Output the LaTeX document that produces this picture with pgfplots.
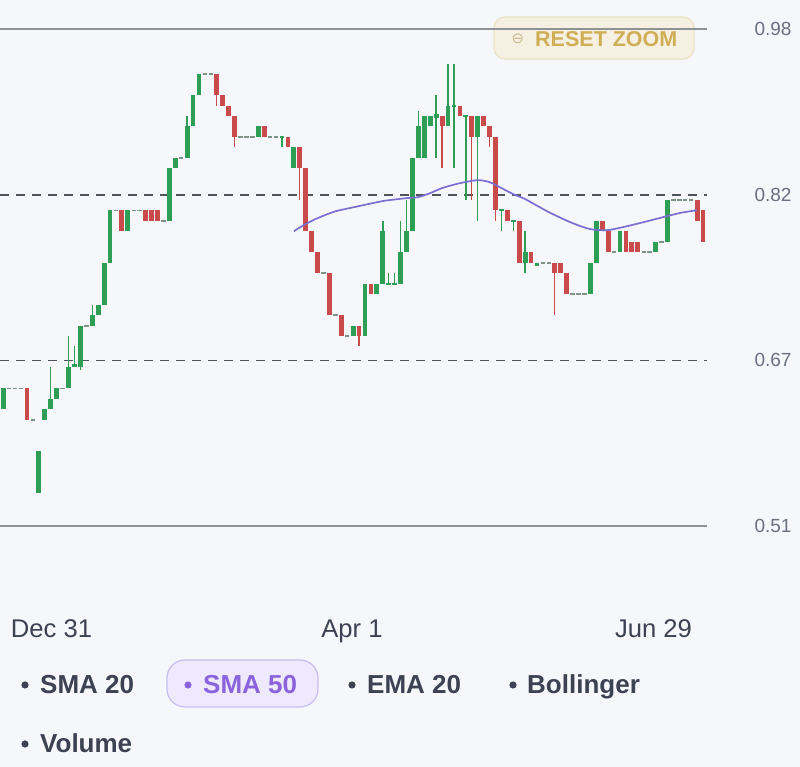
\documentclass[border=0pt]{standalone}
\usepackage{pgfplots}
\pgfplotsset{compat=1.18}
\usepackage{pgfplotstable}
\usepackage{fontspec}
\setmainfont{Liberation Sans}
\newfontfamily\symfont{DejaVu Sans}
\definecolor{bg}{HTML}{F5F7FB}
\definecolor{cgreen}{HTML}{2E9E55}
\definecolor{cred}{HTML}{C94A4A}
\definecolor{cflat}{HTML}{7F9387}
\definecolor{sma}{HTML}{7B6FD0}
\definecolor{txt}{HTML}{3D4252}
\definecolor{ylab}{HTML}{6B7080}
\definecolor{gold}{HTML}{CFAE55}
\definecolor{goldl}{HTML}{C9B98E}
\definecolor{btnfill}{HTML}{F5F0E1}
\definecolor{btnborder}{HTML}{ECE2C6}
\definecolor{pillfill}{HTML}{EEE9FC}
\definecolor{pilldraw}{HTML}{C8BDF0}
\definecolor{purp}{HTML}{8A63DD}
\definecolor{gridd}{HTML}{4F535A}
\definecolor{grids}{HTML}{8E9297}

\pgfplotstableread{
i o h l c
0 0.62 0.64 0.62 0.64
6 0.54 0.58 0.54 0.58
7 0.61 0.62 0.61 0.62
8 0.62 0.66 0.62 0.63
9 0.63 0.64 0.63 0.64
11 0.64 0.69 0.64 0.66
12 0.66 0.68 0.66 0.663
13 0.66 0.70 0.658 0.70
15 0.70 0.72 0.70 0.71
16 0.71 0.72 0.71 0.72
17 0.72 0.76 0.72 0.76
18 0.76 0.81 0.76 0.81
21 0.79 0.81 0.79 0.81
28 0.80 0.85 0.80 0.85
29 0.85 0.86 0.85 0.86
31 0.86 0.90 0.86 0.89
32 0.89 0.92 0.89 0.92
33 0.92 0.94 0.92 0.94
43 0.88 0.89 0.88 0.89
47 0.879 0.881 0.87 0.881
49 0.85 0.87 0.85 0.87
59 0.69 0.70 0.69 0.70
61 0.69 0.74 0.69 0.74
63 0.73 0.74 0.73 0.74
64 0.74 0.80 0.74 0.79
65 0.739 0.75 0.739 0.741
66 0.739 0.75 0.739 0.741
67 0.74 0.80 0.74 0.77
68 0.77 0.82 0.77 0.79
69 0.79 0.86 0.79 0.86
70 0.86 0.905 0.86 0.89
71 0.86 0.90 0.86 0.90
72 0.89 0.90 0.89 0.90
73 0.898 0.92 0.86 0.902
75 0.89 0.95 0.89 0.91
76 0.909 0.95 0.85 0.911
78 0.899 0.901 0.82 0.901
80 0.88 0.90 0.80 0.90
84 0.809 0.811 0.79 0.811
86 0.799 0.801 0.79 0.801
88 0.76 0.79 0.75 0.77
90 0.757 0.76 0.757 0.76
99 0.73 0.76 0.73 0.76
100 0.76 0.80 0.76 0.80
104 0.77 0.79 0.77 0.79
110 0.77 0.78 0.77 0.78
112 0.78 0.82 0.78 0.82
}\greentab

\pgfplotstableread{
i o h l c
4 0.64 0.64 0.61 0.61
20 0.81 0.81 0.79 0.79
24 0.81 0.81 0.80 0.80
25 0.81 0.81 0.80 0.80
26 0.81 0.81 0.80 0.80
36 0.94 0.94 0.91 0.92
37 0.92 0.92 0.91 0.91
38 0.91 0.91 0.90 0.90
39 0.90 0.90 0.87 0.88
44 0.89 0.89 0.88 0.88
48 0.88 0.88 0.87 0.87
50 0.87 0.87 0.82 0.85
51 0.85 0.85 0.79 0.79
52 0.79 0.79 0.77 0.77
53 0.77 0.77 0.75 0.75
55 0.75 0.75 0.71 0.71
57 0.71 0.71 0.69 0.69
60 0.70 0.70 0.68 0.69
62 0.74 0.74 0.73 0.73
74 0.90 0.90 0.85 0.89
77 0.91 0.91 0.90 0.90
79 0.90 0.90 0.82 0.88
81 0.90 0.90 0.89 0.89
82 0.89 0.89 0.87 0.88
83 0.88 0.88 0.80 0.81
85 0.81 0.81 0.80 0.80
87 0.80 0.80 0.76 0.76
89 0.77 0.77 0.76 0.76
93 0.76 0.76 0.71 0.75
94 0.76 0.76 0.75 0.75
95 0.75 0.75 0.73 0.73
101 0.80 0.80 0.79 0.79
102 0.79 0.79 0.77 0.77
105 0.79 0.79 0.77 0.77
106 0.78 0.78 0.77 0.77
107 0.78 0.78 0.77 0.77
117 0.82 0.82 0.80 0.80
118 0.81 0.81 0.78 0.78
}\redtab

\pgfplotstableread{
i p
1 0.64
2 0.64
3 0.64
5 0.61
10 0.64
14 0.70
19 0.81
22 0.81
23 0.81
27 0.80
30 0.86
34 0.94
35 0.94
40 0.88
41 0.88
42 0.88
45 0.88
46 0.88
54 0.75
56 0.71
58 0.69
91 0.76
92 0.76
96 0.73
97 0.73
98 0.73
103 0.77
108 0.77
109 0.77
111 0.78
113 0.82
114 0.82
115 0.82
116 0.82
}\flattab

\begin{document}
\begin{tikzpicture}[x=1pt,y=1pt]
\useasboundingbox (0,0) rectangle (800,767);
\fill[bg] (0,0) rectangle (800,767);
% reset zoom button
\draw[fill=btnfill, draw=btnborder, line width=1.3pt, rounded corners=11pt] (494,708) rectangle (694,750);
\node[anchor=center, inner sep=0, text=goldl, font=\symfont\fontsize{15}{15}\selectfont] at (518,728) {⊖};
\node[anchor=base west, inner sep=0, text=gold, font=\bfseries\fontsize{21.5}{22}\selectfont] at (535,720) {RESET ZOOM};

\begin{axis}[
  at={(0,230)}, anchor=south west,
  scale only axis, width=707pt, height=497pt,
  xmin=-0.5565, xmax=118.67, ymin=0.5085, ymax=0.983,
  axis line style={draw=none}, tick style={draw=none},
  ytick={0.5085,0.66667,0.82483,0.983}, yticklabels={0.51,0.67,0.82,0.98},
  yticklabel pos=right,
  yticklabel style={anchor=west, xshift=44pt, text=ylab, font=\fontsize{19}{20}\selectfont},
  xtick={8.13,58.8,109.65}, xticklabels={Dec 31,Apr 1,Jun 29},
  xticklabel style={anchor=base, yshift=-111pt, text=txt, font=\fontsize{25.6}{26}\selectfont},
  clip=false,
]
% horizontal guide lines
\draw[grids, line width=1.3pt] (axis cs:-0.5565,0.983) -- (axis cs:118.67,0.983);
\draw[grids, line width=1.3pt] (axis cs:-0.5565,0.5085) -- (axis cs:118.67,0.5085);
\draw[gridd, line width=1.7pt, dash pattern=on 9pt off 7pt] (axis cs:-0.5565,0.82483) -- (axis cs:118.67,0.82483);
\draw[gridd, line width=1.7pt, dash pattern=on 9pt off 7pt] (axis cs:-0.5565,0.66667) -- (axis cs:118.67,0.66667);
% wicks
\addplot[mark=none, draw=none, forget plot, error bars/.cd, y dir=both, y explicit, error mark=none,
  error bar style={draw=cgreen, line width=1.4pt}]
  table[x=i, y expr=(\thisrow{h}+\thisrow{l})/2, y error expr=(\thisrow{h}-\thisrow{l})/2] {\greentab};
\addplot[mark=none, draw=none, forget plot, error bars/.cd, y dir=both, y explicit, error mark=none,
  error bar style={draw=cred, line width=1.4pt}]
  table[x=i, y expr=(\thisrow{h}+\thisrow{l})/2, y error expr=(\thisrow{h}-\thisrow{l})/2] {\redtab};
% bodies
\addplot[mark=none, draw=none, forget plot, error bars/.cd, y dir=both, y explicit, error mark=none,
  error bar style={draw=cgreen, line width=4.8pt}]
  table[x=i, y expr=(\thisrow{o}+\thisrow{c})/2, y error expr={max(abs(\thisrow{c}-\thisrow{o})/2,0.0008)}] {\greentab};
\addplot[mark=none, draw=none, forget plot, error bars/.cd, y dir=both, y explicit, error mark=none,
  error bar style={draw=cred, line width=4.8pt}]
  table[x=i, y expr=(\thisrow{o}+\thisrow{c})/2, y error expr={max(abs(\thisrow{c}-\thisrow{o})/2,0.0008)}] {\redtab};
% flat candles
\addplot[mark=none, draw=none, forget plot, error bars/.cd, y dir=both, y explicit, error mark=none,
  error bar style={draw=cflat, line width=4.4pt}]
  table[x=i, y=p, y error expr=0.0007] {\flattab};
% SMA 50
\addplot[sma, line width=1.7pt, mark=none, smooth, tension=0.4] coordinates {
(49,0.790) (51,0.797) (53,0.8025) (56,0.809) (60,0.814) (64,0.8188) (68,0.8216) (70,0.8226)
(72,0.8264) (74,0.8312) (77,0.8359) (80,0.8388) (82,0.8369) (84,0.8312) (86,0.8254) (88,0.8207)
(92,0.8082) (96,0.7977) (99,0.7920) (102,0.7911) (106,0.7959) (110,0.8016) (114,0.8073) (117,0.8101)
};
\end{axis}

% legend chips
\fill[pillfill, draw=pilldraw, line width=1.2pt, rounded corners=18pt] (167,60) rectangle (318,107);
\begin{scope}[every node/.style={anchor=base west, inner sep=0, font=\bfseries\fontsize{26}{27}\selectfont}]
\fill[txt] (25,82) circle (3.6);
\node[text=txt] at (40,73) {SMA 20};
\fill[purp] (188,82) circle (3.6);
\node[text=purp] at (203,73) {SMA 50};
\fill[txt] (352,82) circle (3.6);
\node[text=txt] at (367,73) {EMA 20};
\fill[txt] (513,82) circle (3.6);
\node[text=txt] at (527,73) {Bollinger};
\fill[txt] (25,23) circle (3.6);
\node[text=txt] at (40,14) {Volume};
\end{scope}
\end{tikzpicture}
\end{document}
